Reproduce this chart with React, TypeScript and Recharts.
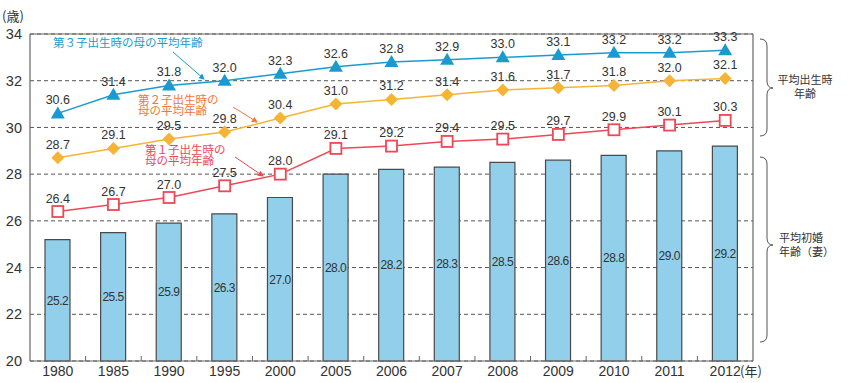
import {
  ComposedChart,
  Bar,
  Line,
  XAxis,
  YAxis,
  CartesianGrid,
  LabelList,
  ReferenceLine,
} from "recharts";

const years = ["1980", "1985", "1990", "1995", "2000", "2005", "2006", "2007", "2008", "2009", "2010", "2011", "2012"];
const firstMarriage = [25.2, 25.5, 25.9, 26.3, 27.0, 28.0, 28.2, 28.3, 28.5, 28.6, 28.8, 29.0, 29.2];
const firstChild = [26.4, 26.7, 27.0, 27.5, 28.0, 29.1, 29.2, 29.4, 29.5, 29.7, 29.9, 30.1, 30.3];
const secondChild = [28.7, 29.1, 29.5, 29.8, 30.4, 31.0, 31.2, 31.4, 31.6, 31.7, 31.8, 32.0, 32.1];
const thirdChild = [30.6, 31.4, 31.8, 32.0, 32.3, 32.6, 32.8, 32.9, 33.0, 33.1, 33.2, 33.2, 33.3];
const yTicks = [20, 22, 24, 26, 28, 30, 32, 34];

const BLUE = "#1a9bd0";
const ORANGE = "#f6b437";
const ORANGE_TXT = "#f0783c";
const RED = "#ee4755";
const TEXT = "#333";
const AXIS = "#666";
const NUM_FONT = "'Liberation Sans', Arial, sans-serif";
const JP_FONT = "'Noto Sans CJK JP', sans-serif";

const data = years.map((y, i) => ({
  year: y,
  marriage: firstMarriage[i],
  c1: firstChild[i],
  c2: secondChild[i],
  c3: thirdChild[i],
}));

const fmt = (v: any) => Number(v).toFixed(1);

function Triangle(p: any) {
  const { cx, cy } = p;
  return <polygon key={p.key} points={`${cx},${cy - 7} ${cx - 7},${cy + 5} ${cx + 7},${cy + 5}`} fill={BLUE} />;
}

function Diamond(p: any) {
  const { cx, cy } = p;
  const r = 6.5;
  return <polygon key={p.key} points={`${cx},${cy - r} ${cx + r},${cy} ${cx},${cy + r} ${cx - r},${cy}`} fill={ORANGE} />;
}

function Square(p: any) {
  const { cx, cy } = p;
  return <rect key={p.key} x={cx - 5.5} y={cy - 5.5} width={11} height={11} fill="#fff" stroke={RED} strokeWidth={1.8} />;
}

// year label plus the little separator mark between categories
function YearTick(p: any) {
  const { x, y, width, payload, index } = p;
  const band = width / years.length;
  return (
    <g>
      {index > 0 && <line x1={x - band / 2} x2={x - band / 2} y1={y} y2={y - 5} stroke={AXIS} strokeWidth={1} />}
      <text x={x} y={y + 14.5} textAnchor="middle" fontSize={14} fill={TEXT} fontFamily={NUM_FONT}>
        {payload.value}
      </text>
    </g>
  );
}

const labelStyle = { fontSize: 12.5, fill: TEXT, fontFamily: NUM_FONT };

function Overlay() {
  return (
    <svg width={851} height={383} style={{ position: "absolute", left: 0, top: 0, pointerEvents: "none" }}>
      <defs>
        <marker id="ab" markerWidth="6" markerHeight="6" refX="5" refY="3" orient="auto">
          <path d="M0,0 L6,3 L0,6 z" fill={BLUE} />
        </marker>
        <marker id="ao" markerWidth="6" markerHeight="6" refX="5" refY="3" orient="auto">
          <path d="M0,0 L6,3 L0,6 z" fill={ORANGE_TXT} />
        </marker>
        <marker id="ar" markerWidth="6" markerHeight="6" refX="5" refY="3" orient="auto">
          <path d="M0,0 L6,3 L0,6 z" fill={RED} />
        </marker>
      </defs>
      <text x={2} y={21} fontSize={13} fill={TEXT} fontFamily={JP_FONT}>(歳)</text>
      <text x={740} y={376} fontSize={13} fill={TEXT} fontFamily={JP_FONT}>(年)</text>

      {/* series notes */}
      <text x={53} y={47} fontSize={11.5} fill={BLUE} fontFamily={JP_FONT}>第３子出生時の母の平均年齢</text>
      <line x1={173} y1={52} x2={204} y2={79} stroke={BLUE} strokeWidth={1} markerEnd="url(#ab)" />

      <text x={138} y={104} fontSize={11.5} fill={ORANGE_TXT} fontFamily={JP_FONT}>
        <tspan x={138}>第２子出生時の</tspan>
        <tspan x={138} dy={11}>母の平均年齢</tspan>
      </text>
      <line x1={233} y1={107} x2={257} y2={122} stroke={ORANGE_TXT} strokeWidth={1} markerEnd="url(#ao)" />

      <text x={145} y={154} fontSize={11.5} fill={RED} fontFamily={JP_FONT}>
        <tspan x={145}>第１子出生時の</tspan>
        <tspan x={145} dy={11}>母の平均年齢</tspan>
      </text>
      <line x1={235} y1={157} x2={263} y2={176} stroke={RED} strokeWidth={1} markerEnd="url(#ar)" />

      {/* brackets */}
      <path d="M760,39 Q767,39 767,46 L767,81 Q767,88 773,88 Q767,88 767,95 L767,129 Q767,136 760,136" fill="none" stroke="#555" strokeWidth={1} />
      <path d="M760,157 Q767,157 767,164 L767,238 Q767,245 773,245 Q767,245 767,252 L767,335 Q767,342 760,342" fill="none" stroke="#555" strokeWidth={1} />
      <text x={805} y={84} fontSize={11} fill={TEXT} fontFamily={JP_FONT} textAnchor="middle">
        <tspan x={805}>平均出生時</tspan>
        <tspan x={805} dy={14}>年齢</tspan>
      </text>
      <text x={779} y={242} fontSize={11} fill={TEXT} fontFamily={JP_FONT}>
        <tspan x={779}>平均初婚</tspan>
        <tspan x={779} dy={14}>年齢（妻）</tspan>
      </text>
    </svg>
  );
}

export default function App() {
  return (
    <div style={{ position: "relative", width: 851, height: 383, background: "#fff" }}>
      <style>{`body{margin:0}`}</style>
      <ComposedChart width={851} height={383} data={data} margin={{ top: 34, right: 97, bottom: 0, left: 0 }}>
        <CartesianGrid vertical={false} stroke="#555" strokeDasharray="4 3" />
        <XAxis
          dataKey="year"
          height={22}
          tickLine={false}
          tickSize={0}
          tickMargin={0}
          axisLine={{ stroke: AXIS, strokeWidth: 1.2 }}
          tick={<YearTick />}
          interval={0}
        />
        <YAxis
          domain={[20, 34]}
          ticks={yTicks}
          width={30}
          tickLine={false}
          tickSize={0}
          tickMargin={8}
          axisLine={{ stroke: AXIS, strokeWidth: 1.2 }}
          tick={{ fontSize: 14.5, fill: TEXT, fontFamily: NUM_FONT }}
          interval={0}
        />
        <YAxis
          yAxisId="r"
          orientation="right"
          domain={[20, 34]}
          width={1}
          tick={false}
          tickLine={false}
          axisLine={{ stroke: AXIS, strokeWidth: 1.2 }}
        />
        <ReferenceLine y={34} stroke={AXIS} strokeWidth={1.2} />
        <Bar dataKey="marriage" barSize={25} fill="#92cfea" stroke="#4a4a4a" strokeWidth={1.2} isAnimationActive={false}>
          <LabelList
            dataKey="marriage"
            position="center"
            formatter={fmt}
            style={{ fontSize: 12, fill: TEXT, fontFamily: NUM_FONT, letterSpacing: -0.5 }}
          />
        </Bar>
        <Line dataKey="c1" stroke={RED} strokeWidth={1.5} dot={Square} activeDot={false} isAnimationActive={false}>
          <LabelList dataKey="c1" position="top" offset={9} formatter={fmt} style={labelStyle} />
        </Line>
        <Line dataKey="c2" stroke={ORANGE} strokeWidth={1.5} dot={Diamond} activeDot={false} isAnimationActive={false}>
          <LabelList dataKey="c2" position="top" offset={9} formatter={fmt} style={labelStyle} />
        </Line>
        <Line dataKey="c3" stroke={BLUE} strokeWidth={1.5} dot={Triangle} activeDot={false} isAnimationActive={false}>
          <LabelList dataKey="c3" position="top" offset={9} formatter={fmt} style={labelStyle} />
        </Line>
      </ComposedChart>
      <Overlay />
    </div>
  );
}
